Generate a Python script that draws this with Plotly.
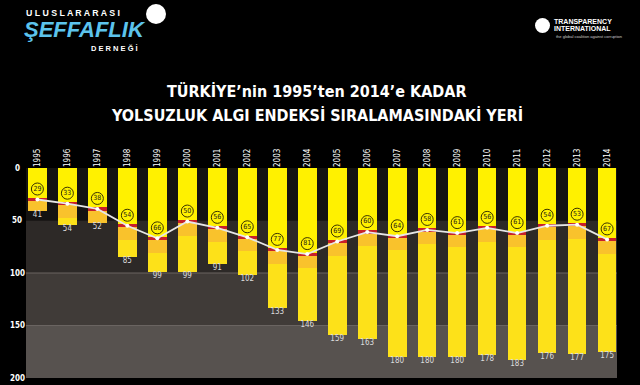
import plotly.graph_objects as go

years = [str(y) for y in range(1995, 2015)]
ranks = [29, 33, 38, 54, 66, 50, 56, 65, 77, 81, 69, 60, 64, 58, 61, 56, 61, 54, 53, 67]
totals = [41, 54, 52, 85, 99, 99, 91, 102, 133, 146, 159, 163, 180, 180, 180, 178, 183, 176, 177, 175]
y_ticks = [0, 50, 100, 150, 200]

NARROW = "Liberation Sans Narrow, DejaVu Sans Condensed, Arial Narrow, sans-serif"
YEL = "#fff100"
GOLD = "#f9c22c"
YEL2 = "#fde119"
RED = "#c8202a"

# plot area in pixels
PL, PR, PT, PB = 26, 617, 168, 378
PW, PH = PR - PL, PB - PT

xs = list(range(len(years)))
W = 0.62
GOLD_LEN = 12

red_base = [r - 0.5 for r in ranks]
gold_base = [r + 2.5 for r in ranks]
gold_end = [min(r + 2.5 + GOLD_LEN, t) for r, t in zip(ranks, totals)]

fig = go.Figure()
fig.add_trace(go.Bar(x=xs, y=ranks, base=[0] * len(xs), width=W,
                     marker=dict(color=YEL, line=dict(width=0)), hoverinfo="skip"))
fig.add_trace(go.Bar(x=xs, y=[t - g for t, g in zip(totals, gold_end)], base=gold_end, width=W,
                     marker=dict(color=YEL2, line=dict(width=0)), hoverinfo="skip"))
fig.add_trace(go.Bar(x=xs, y=[e - b for e, b in zip(gold_end, gold_base)], base=gold_base, width=W,
                     marker=dict(color=GOLD, line=dict(width=0)), hoverinfo="skip"))
fig.add_trace(go.Bar(x=xs, y=[3] * len(xs), base=red_base, width=W,
                     marker=dict(color=RED, line=dict(width=0)), hoverinfo="skip"))
fig.add_trace(go.Scatter(x=xs, y=[r + 1 for r in ranks], mode="lines+markers",
                         line=dict(color="#e6e6e6", width=1.8),
                         marker=dict(color="#ffffff", size=4), hoverinfo="skip"))
fig.add_trace(go.Scatter(x=xs, y=[r - 9 for r in ranks], mode="markers+text",
                         marker=dict(color=YEL, size=12, line=dict(color="#3a3300", width=1)),
                         text=[str(r) for r in ranks], textposition="middle center",
                         textfont=dict(family=NARROW, size=7, color="#1a1a1a"), hoverinfo="skip"))
fig.add_trace(go.Scatter(x=xs, y=totals, mode="text",
                         text=[str(t) for t in totals], textposition="bottom center",
                         textfont=dict(family=NARROW, size=8, color="#dcdcdc"), hoverinfo="skip"))


def px_x(x):
    return (x - PL) / PW


def px_y(y):
    return (PB - y) / PH


bands = [(0, 50, "#141312"), (50, 100, "#2d2927"), (100, 150, "#403b38"), (150, 200, "#57524f")]
shapes = []
for y0, y1, c in bands:
    shapes.append(dict(type="rect", xref="paper", yref="y", x0=0, x1=1, y0=y0, y1=y1,
                       fillcolor=c, line=dict(width=0), layer="below"))
for yl in [100, 150]:
    shapes.append(dict(type="line", xref="paper", yref="y", x0=0, x1=1, y0=yl, y1=yl,
                       line=dict(color="#6a6461", width=1), layer="below"))
shapes.append(dict(type="circle", xref="paper", yref="paper",
                   x0=px_x(146), x1=px_x(166), y0=px_y(24), y1=px_y(4),
                   fillcolor="#ffffff", line=dict(width=0)))
shapes.append(dict(type="circle", xref="paper", yref="paper",
                   x0=px_x(535), x1=px_x(550), y0=px_y(33), y1=px_y(18),
                   fillcolor="#ffffff", line=dict(width=0)))


def px_ann(text, x, y, size, color="#ffffff", family="Liberation Sans, Arial, sans-serif",
           xanchor="left", yanchor="middle"):
    return dict(text=text, xref="paper", yref="paper", x=px_x(x), y=px_y(y),
                xanchor=xanchor, yanchor=yanchor, showarrow=False,
                font=dict(size=size, color=color, family=family))


annotations = [
    px_ann("<b>TÜRKİYE’nin 1995’ten 2014’e KADAR</b>", 316, 91, 16, family=NARROW, xanchor="center"),
    px_ann("<b>YOLSUZLUK ALGI ENDEKSİ SIRALAMASINDAKİ YERİ</b>", 317, 115, 16, family=NARROW, xanchor="center"),
    px_ann("<b>U L U S L A R A R A S I</b>", 24, 13, 8.8),
    px_ann("<b><i>ŞEFFAFLIK</i></b>", 22, 30, 22, color="#5cc3ec"),
    px_ann("<b>D E R N E Ğ İ</b>", 89, 48, 7.5),
    px_ann("<b>TRANSPARENCY</b>", 552, 21, 7),
    px_ann("<b>INTERNATIONAL</b>", 552, 29, 7),
    px_ann("the global coalition against corruption", 554, 36, 4, color="#cccccc"),
]
# y-axis labels centred left of the plot
for v in y_ticks:
    annotations.append(dict(text=f"<b>{v}</b>", xref="paper", yref="y", x=px_x(17), y=v,
                            xanchor="center", yanchor="middle", showarrow=False,
                            font=dict(family=NARROW, size=8, color="#ffffff")))

fig.update_layout(
    width=640, height=385,
    margin=dict(l=PL, r=640 - PR, t=PT, b=385 - PB),
    paper_bgcolor="#000000", plot_bgcolor="#000000",
    barmode="overlay", showlegend=False, bargap=0,
    shapes=shapes, annotations=annotations,
    xaxis=dict(range=[-0.38, 19.33], side="top", tickmode="array", tickvals=xs, ticktext=years,
               tickangle=-90, tickfont=dict(family=NARROW, size=8, color="#ffffff"),
               showgrid=False, zeroline=False, showline=False, ticks="", fixedrange=True,
               automargin=False),
    yaxis=dict(range=[200, 0], tickmode="array", tickvals=y_ticks, showticklabels=False,
               showgrid=False, zeroline=False, showline=False, ticks="", fixedrange=True,
               automargin=False),
)

fig.write_html("out.html", config={"displayModeBar": False},
               post_script="document.body.style.margin='0';document.body.style.background='#000';")
